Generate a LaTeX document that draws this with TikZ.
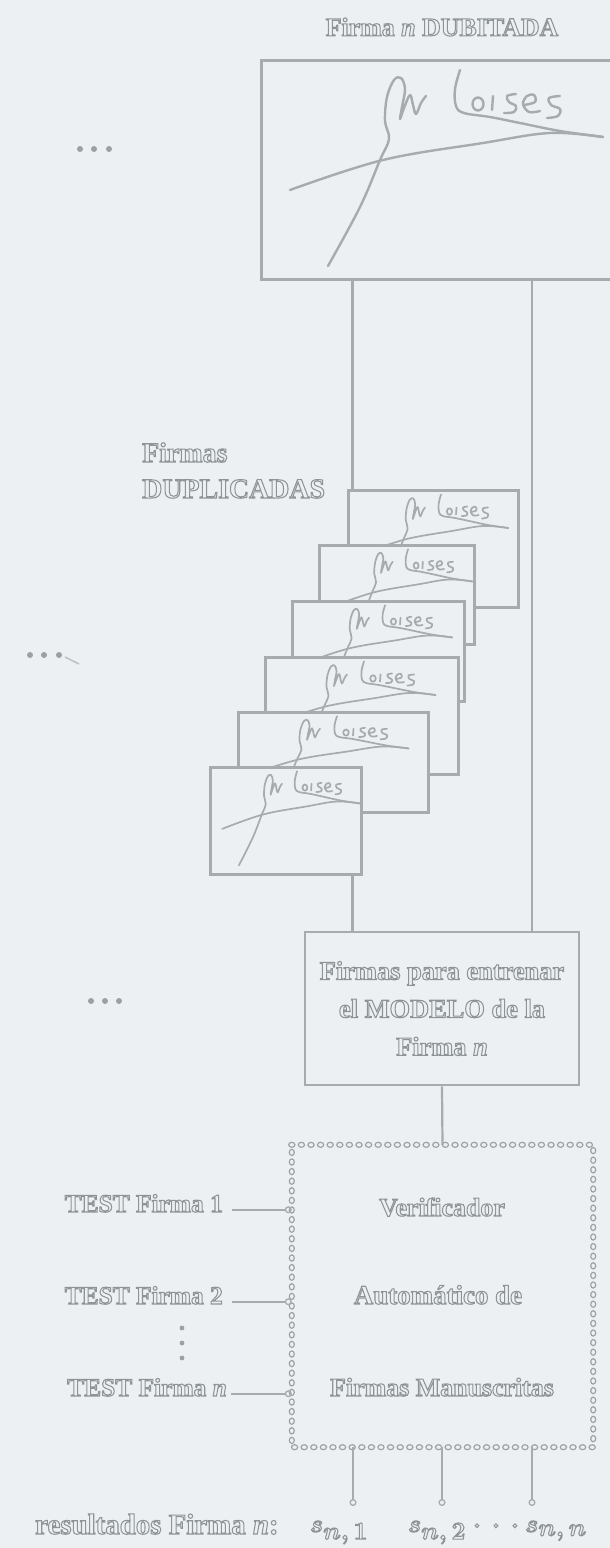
\documentclass[tikz,border=0pt]{standalone}
\usepackage{fontspec}
\setmainfont{Liberation Serif}
\usetikzlibrary{decorations.markings,arrows.meta}
\definecolor{bg}{RGB}{236,240,243}
\definecolor{lc}{RGB}{166,171,174}
\definecolor{tc}{RGB}{142,147,150}
\definecolor{dc}{RGB}{155,160,163}
\newcommand\hol[1]{\special{pdf:literal direct q 1 Tr 1.05 w}#1\special{pdf:literal direct Q}}
\tikzset{
  lbl/.style={text=tc, inner sep=0pt, font=\bfseries\fontsize{26}{30}\selectfont},
  frame/.style={draw=lc, line width=2.8bp, inner sep=0pt},
  dup/.style={frame, fill=bg, anchor=north west},
  conn/.style={draw=lc, line width=2.2bp},
  outc/.style={conn, -{Circle[open,length=7bp,width=7bp,line width=1.3bp]}},
  sigline/.style={draw=lc, line width=2.4bp, line cap=round, line join=round},
  circdec/.style={postaction={decorate}, decoration={markings,
     mark=between positions 0 and 1 step 9.6bp with {\draw[dc, line width=1.15bp] (0,0) ellipse (3.1bp and 2.5bp);}}},
  sig/.pic={
    \draw[sigline] plot[smooth, tension=0.6] coordinates {(68,207) (100,148) (120,101) (129,80) (125,62) (127,38) (134,21) (141,19) (145,30) (142,48) (140,60) (144,49) (150,36) (153,46) (156,55) (161,44) (166,37)};
    \draw[sigline] plot[smooth, tension=0.6] coordinates {(200,11) (195,30) (196,47) (204,54) (230,58) (260,64) (300,72) (343,78)};
    \draw[sigline] plot[smooth, tension=0.6] coordinates {(30,131) (123,101) (223,84) (290,74) (343,78)};
    \draw[sigline] (218,45) ellipse (5.5bp and 6.5bp);
    \draw[sigline] (233,37) -- (232,51);
    \draw[sigline] plot[smooth, tension=0.6] coordinates {(256,35) (247,37) (249,43) (256,47) (254,53) (244,54)};
    \draw[sigline] plot[smooth, tension=0.6] coordinates {(264,46) (275,43) (274,36) (267,37) (263,45) (269,53) (280,52)};
    \draw[sigline] plot[smooth, tension=0.6] coordinates {(300,37) (289,39) (291,46) (300,50) (298,57) (287,59)};
  }
}
\begin{document}
\begin{tikzpicture}[x=1bp,y=-1bp]
\useasboundingbox (0,0) rectangle (610,1548);
\fill[bg] (0,0) rectangle (610,1548);

% top: doubted signature
\node[lbl] (title) at (442,27) {\hol{Firma \textit{n} DUBITADA}};
\node[frame, anchor=north west, minimum width=360bp, minimum height=219bp] (dub) at (260,59) {};
\pic at (dub.north west) {sig};

% ellipses on the left
\foreach \x in {80,94,109} \fill[dc] (\x,149) circle (3bp);
\foreach \x in {30,44,59} \fill[dc] (\x,655) circle (3bp);
\draw[dc!60!bg, line width=1.5bp] (65,657) -- (79,664);
\foreach \x in {91,105,119} \fill[dc] (\x,1001) circle (3bp);

% duplicated signatures
\node[lbl, anchor=base west, font=\bfseries\fontsize{28}{32}\selectfont] (f1) at (142,462) {\hol{Firmas}};
\node[lbl, anchor=base west, font=\bfseries\fontsize{28}{32}\selectfont] (f2) at (142,498) {\hol{DUPLICADAS}};

\begin{scope}[sigline/.style={draw=lc, line width=1.7bp, line cap=round, line join=round}]
\node[dup, minimum width=170bp, minimum height=117bp] (d1) at (347,489) {};
\pic[xscale=0.47, yscale=0.5] at (d1.north west) {sig};
\node[dup, minimum width=155bp, minimum height=99bp] (d2) at (318,544) {};
\pic[xscale=0.45, yscale=0.48] at (d2.north west) {sig};
\node[dup, minimum width=172bp, minimum height=100bp] (d3) at (291,600) {};
\pic[xscale=0.47, yscale=0.48] at (d3.north west) {sig};
\node[dup, minimum width=193bp, minimum height=117bp] (d4) at (264,656) {};
\pic[xscale=0.5, yscale=0.5] at (d4.north west) {sig};
\node[dup, minimum width=190bp, minimum height=100bp] (d5) at (237,711) {};
\pic[xscale=0.5, yscale=0.48] at (d5.north west) {sig};
\node[dup, minimum width=151bp, minimum height=107bp] (d6) at (209,766) {};
\pic[xscale=0.44, yscale=0.48] at (d6.north west) {sig};
\end{scope}

% training box
\node[frame, minimum width=274bp, minimum height=153bp] (train) at (442,1008.5) {};
\node[lbl, align=center, font=\bfseries\fontsize{26.5}{38}\selectfont] (traintxt) at (train.center) {\hol{Firmas para entrenar\\el MODELO de la\\Firma \textit{n}}};

\coordinate (c1) at (352.5,0);
\coordinate (c2) at (532,0);
\draw[conn] (dub.south -| c1) -- (d1.north -| c1);
\draw[conn] (dub.south -| c2) -- (train.north -| c2);
\draw[conn] (d6.south -| c1) -- (train.north -| c1);

% verifier
\node[minimum width=301bp, minimum height=302bp, inner sep=0pt] (ver) at (442.5,1296) {};
\path[circdec] (ver.north west) -- (ver.north east) -- (ver.south east) -- (ver.south west) -- cycle;
\draw[conn] (train.south) -- (ver.north);

\node[lbl, anchor=base] (v1) at (442,1216) {\hol{Verificador}};
\node[lbl, anchor=base, font=\bfseries\fontsize{27}{30}\selectfont] (v2) at (438,1304) {\hol{Automático de}};
\node[lbl, anchor=base] (v3) at (442,1396) {\hol{Firmas Manuscritas}};

\node[lbl, anchor=base east, font=\bfseries\fontsize{25.5}{30}\selectfont] (t1) at (223,1212) {\hol{TEST Firma 1}};
\node[lbl, anchor=base east, font=\bfseries\fontsize{25.5}{30}\selectfont] (t2) at (223,1304) {\hol{TEST Firma 2}};
\node[lbl, anchor=base east, font=\bfseries\fontsize{25.5}{30}\selectfont] (t3) at (227,1396) {\hol{TEST Firma \textit{n}}};
\draw[outc] ([xshift=9bp]t1.mid east) -- (ver.west |- t1.mid east);
\draw[outc] ([xshift=9bp]t2.mid east) -- (ver.west |- t2.mid east);
\draw[outc] ([xshift=4bp]t3.mid east) -- (ver.west |- t3.mid east);
\foreach \y in {1328,1343,1358} \fill[dc] (182,\y) circle (2.4bp);

% outputs
\coordinate (r1) at (353,1506);
\coordinate (r2) at (442,1506);
\coordinate (r3) at (532,1506);
\draw[outc] (ver.south -| r1) -- (r1);
\draw[outc] (ver.south -| r2) -- (r2);
\draw[outc] (ver.south -| r3) -- (r3);

\node[lbl, anchor=base west, font=\bfseries\fontsize{29}{32}\selectfont] (res) at (35,1534) {\hol{resultados Firma \textit{n}:}};
\node[lbl, anchor=base, font=\fontsize{28}{32}\selectfont\boldmath] (s1) at (339,1532) {\hol{$s_{\textstyle n,1}$}};
\node[lbl, anchor=base, font=\fontsize{28}{32}\selectfont\boldmath] (s2) at (437,1532) {\hol{$s_{\textstyle n,2}$}};
\node[lbl, anchor=base, font=\fontsize{28}{32}\selectfont\boldmath] (sd) at (496,1532) {\hol{$\cdot\,\cdot\,\cdot$}};
\node[lbl, anchor=base, font=\fontsize{28}{32}\selectfont\boldmath] (sn) at (556,1532) {\hol{$s_{\textstyle n,n}$}};
\end{tikzpicture}
\end{document}
